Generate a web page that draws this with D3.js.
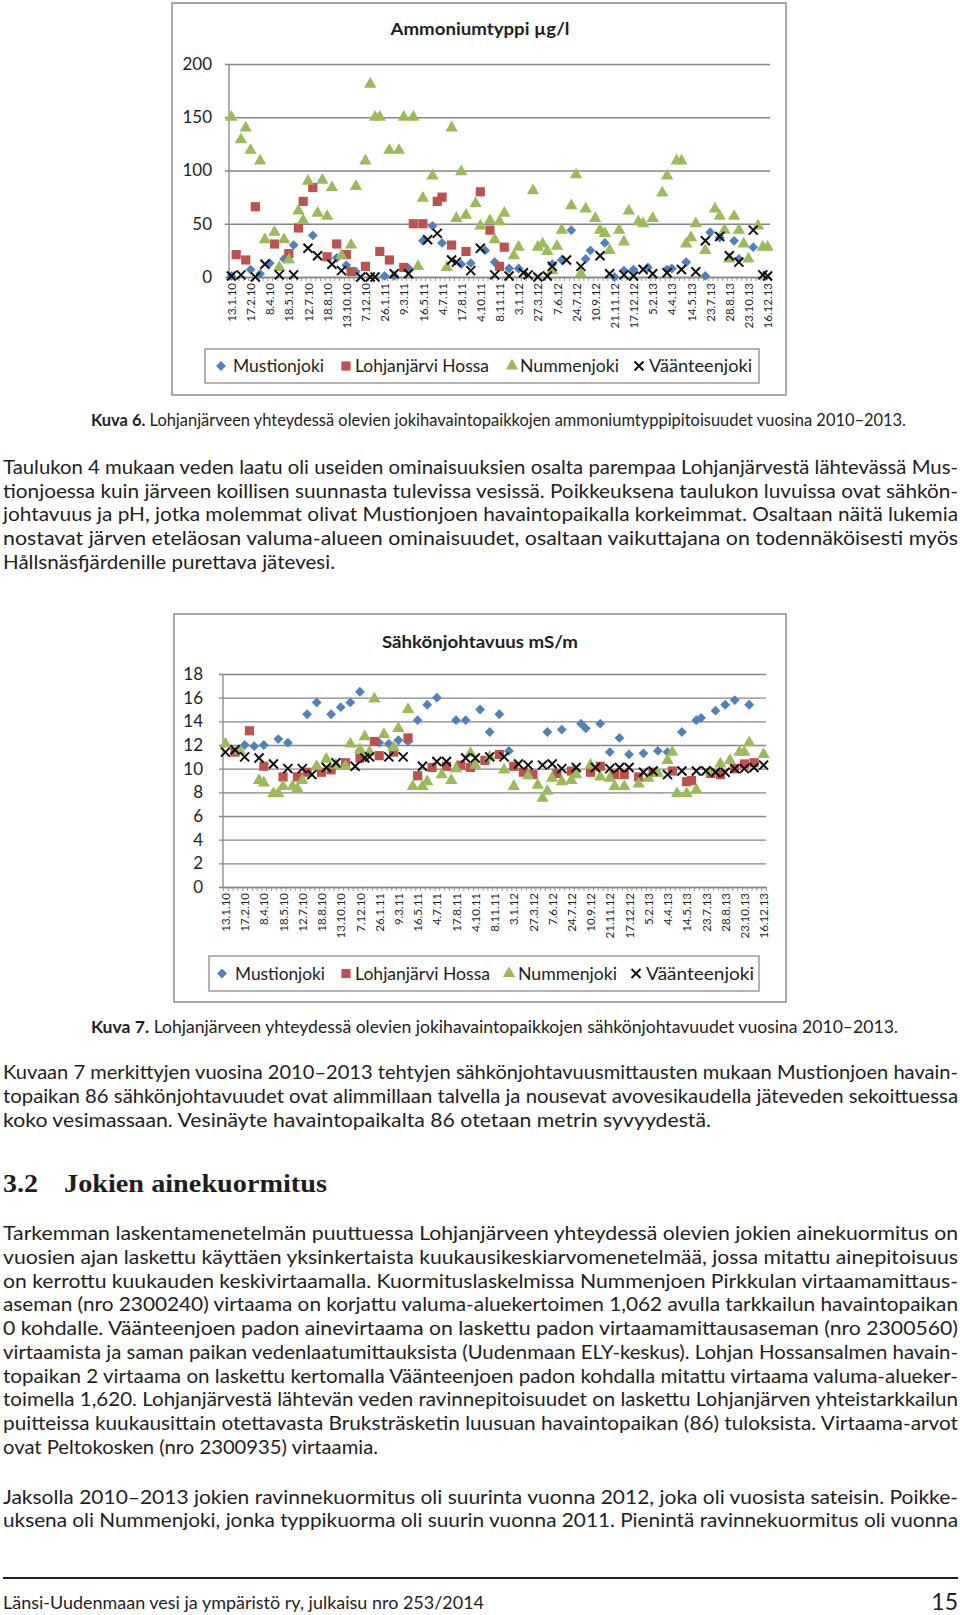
<!DOCTYPE html>
<html>

<head>
    <meta charset="utf-8">
    <title>Ammoniumtyppi ja sähkönjohtavuus</title>
    <script src="https://cdnjs.cloudflare.com/ajax/libs/d3/7.8.5/d3.min.js"></script>
    <style>
        body { margin: 0; background: #fff; }
        svg text { font-family: Lato, "Open Sans", sans-serif; fill: #1e1e1e; }
    </style>
</head>

<body>
    <script>
        var W = 960, H = 1615;

        // category axis: one category per sampling date, every 4th one labelled
        var nCat = 113, labelStep = 4;
        var dateLabels = ["13.1.10", "17.2.10", "8.4.10", "18.5.10", "12.7.10", "18.8.10", "13.10.10", "7.12.10",
            "26.1.11", "9.3.11", "16.5.11", "4.7.11", "17.8.11", "4.10.11", "8.11.11", "3.1.12", "27.3.12",
            "7.6.12", "24.7.12", "10.9.12", "21.11.12", "17.12.12", "5.2.13", "4.4.13", "14.5.13", "23.7.13",
            "28.8.13", "23.10.13", "16.12.13"];
        var seriesNames = ["Mustionjoki", "Lohjanjärvi Hossa", "Nummenjoki", "Väänteenjoki"];

        // Kuva 6: ammoniumtyppi µg/l, [category, value]
        var ammTicks = [0, 50, 100, 150, 200];
        var ammMustionjoki = [[0,1],[4,7],[6,3],[8,13],[11,17],[13,30],[17,39],[22,18],[24,11],[26,5],[32,1],[34,1],
            [37,8],[40,34],[42,48],[44,32],[48,12],[50,13],[53,25],[55,14],[58,8],[60,8],[67,12],[69,16],[71,44],
            [74,17],[75,25],[78,32],[80,0],[82,6],[84,7],[87,9],[91,7],[92,8],[95,14],[99,1],[100,42],[102,37],
            [105,34],[106,17],[109,28]];
        var ammLohjanjarvi = [[1,21],[3,16],[5,66],[9,31],[12,22],[14,46],[15,71],[17,84],[20,19],[22,31],[24,21],
            [25,5],[28,10],[31,24],[33,16],[36,9],[38,50],[40,50],[43,71],[44,75],[46,30],[49,24],[52,80],[54,44],
            [56,10],[57,28]];
        var ammNummenjoki = [[0,150],[2,129],[3,140],[4,119],[6,109],[7,35],[9,42],[10,9],[11,35],[12,16],[14,62],
            [15,53],[16,90],[18,60],[19,91],[20,57],[21,84],[23,20],[25,30],[26,85],[28,109],[29,181],[30,150],
            [31,150],[33,119],[35,119],[36,150],[38,150],[39,10],[40,74],[42,95],[45,9],[46,140],[47,55],[48,99],
            [49,58],[51,69],[52,48],[54,53],[55,35],[56,52],[57,60],[59,20],[60,28],[63,81],[64,28],[65,31],[66,24],
            [67,6],[68,29],[69,44],[71,67],[72,96],[73,3],[74,64],[76,55],[77,44],[78,41],[79,25],[81,44],[82,33],
            [83,62],[85,52],[86,50],[88,55],[90,79],[91,95],[93,109],[94,109],[95,31],[96,37],[97,50],[99,25],
            [101,64],[102,57],[103,44],[104,17],[105,57],[106,44],[107,31],[108,17],[110,48],[111,28],[112,28]];
        var ammVaanteenjoki = [[0,1],[2,2],[5,0],[7,12],[10,2],[13,2],[16,27],[18,20],[21,12],[23,6],[27,0],[29,0],
            [30,0],[34,3],[37,3],[41,35],[43,41],[46,16],[47,14],[50,6],[52,27],[55,2],[58,1],[61,4],[62,2],[64,0],
            [66,1],[67,10],[70,16],[73,10],[77,20],[79,3],[82,2],[84,1],[86,7],[88,3],[91,4],[94,7],[97,5],[99,34],
            [102,38],[104,20],[106,14],[109,44],[111,2],[112,1]];

        // Kuva 7: sähkönjohtavuus mS/m
        var condTicks = [0, 2, 4, 6, 8, 10, 12, 14, 16, 18];
        var condMustionjoki = [[4,12.0],[6,11.9],[8,12.0],[11,12.5],[13,12.2],[17,14.6],[19,15.6],[22,14.6],
            [24,15.2],[26,15.6],[28,16.5],[32,12.2],[34,12.1],[36,12.4],[38,12.3],[40,14.1],[42,15.4],[44,16.0],
            [48,14.1],[50,14.1],[53,15.0],[55,13.1],[57,14.6],[59,11.5],[67,13.1],[70,13.3],[74,13.8],[75,13.4],
            [78,13.8],[80,11.4],[82,12.6],[84,11.2],[87,11.3],[90,11.5],[92,11.4],[95,13.1],[98,14.1],[99,14.3],
            [102,14.9],[104,15.4],[106,15.8],[109,15.4]];
        var condLohjanjarvi = [[2,11.4],[5,13.2],[8,10.2],[12,9.3],[15,9.3],[17,9.7],[20,9.7],[22,9.9],[25,10.5],
            [28,10.9],[31,12.3],[32,11.1],[35,11.4],[38,12.6],[40,9.4],[43,10.1],[46,10.2],[49,10.3],[51,10.1],
            [54,10.7],[57,11.2],[60,10.2],[62,9.7],[64,9.5],[69,9.6],[72,9.8],[76,9.7],[78,10.2],[81,9.5],[83,9.5],
            [86,9.3],[89,9.7],[93,9.8],[96,8.9],[97,9.0],[101,9.6],[103,9.5],[106,10.0],[108,10.4],[110,10.5]];
        var condNummenjoki = [[0,12.1],[3,11.5],[7,9.0],[8,8.8],[10,7.9],[11,7.9],[12,8.5],[14,8.5],[15,8.3],
            [16,9.0],[19,10.2],[21,10.8],[23,10.3],[25,10.2],[26,12.1],[28,11.6],[29,12.7],[30,11.4],[31,15.9],
            [33,12.9],[35,11.8],[36,13.4],[38,15.0],[39,8.5],[41,8.5],[42,8.9],[45,9.5],[47,9.0],[48,10.0],
            [51,11.3],[52,10.3],[55,11.0],[58,9.9],[60,8.5],[63,9.4],[65,8.6],[66,7.5],[67,8.1],[68,9.2],[70,8.9],
            [72,9.0],[73,9.5],[76,10.3],[78,9.3],[80,9.2],[81,8.5],[83,8.5],[86,8.7],[88,9.2],[90,9.6],[92,10.7],
            [93,11.4],[94,7.9],[96,7.9],[98,8.2],[101,9.7],[103,10.4],[105,10.7],[107,11.4],[108,11.4],[109,12.2],
            [112,11.2]];
        var condVaanteenjoki = [[0,11.4],[2,11.6],[4,11.0],[7,10.9],[10,10.4],[13,10.0],[16,10.0],[18,9.5],
            [21,10.1],[23,10.5],[27,10.2],[29,10.9],[30,11.0],[34,11.0],[37,11.0],[41,10.2],[44,10.6],[46,10.6],
            [50,10.9],[52,10.9],[55,11.0],[58,11.0],[61,10.4],[63,10.3],[66,10.3],[68,10.4],[70,10.0],[73,10.1],
            [77,10.1],[80,10.0],[82,10.1],[84,10.1],[87,9.7],[89,9.8],[92,9.5],[95,9.8],[98,9.8],[100,9.8],
            [102,9.7],[104,9.7],[106,10.0],[108,10.0],[110,10.1],[112,10.3]];

        var svg = d3.select("body")
            .append("svg")
            .attr("width", W)
            .attr("height", H);

        // marker shapes
        var markers = [
            { d: d3.symbol(d3.symbolSquare, 48)(), rot: 45, fill: "#4f81bd" },
            { d: d3.symbol(d3.symbolSquare, 84)(), rot: 0, fill: "#c0504d" },
            { d: d3.symbol(d3.symbolTriangle, 66)(), rot: 0, fill: "#9bbb59" },
            { d: "M-4.5,-4.5L4.5,4.5M-4.5,4.5L4.5,-4.5", rot: 0, fill: "none", stroke: "#111" }
        ];

        function drawMarker(g, m, tx, ty) {
            g.append("path")
                .attr("d", m.d)
                .attr("transform", "translate(" + tx + "," + ty + ")" + (m.rot ? " rotate(" + m.rot + ")" : ""))
                .attr("fill", m.fill)
                .attr("stroke", m.stroke || "none")
                .attr("stroke-width", m.stroke ? 2 : 0);
        }

        function drawChart(o) {
            var g = svg.append("g");

            g.append("rect")
                .attr("x", o.frame[0]).attr("y", o.frame[1])
                .attr("width", o.frame[2]).attr("height", o.frame[3])
                .attr("fill", "#fff").attr("stroke", "#8c8c8c").attr("stroke-width", 1.5);

            g.append("text")
                .attr("x", o.titlePos[0]).attr("y", o.titlePos[1])
                .attr("text-anchor", "middle")
                .attr("font-weight", 700).attr("font-size", 17.5)
                .attr("textLength", o.titleLen).attr("lengthAdjust", "spacingAndGlyphs")
                .text(o.title);

            var x = d3.scaleLinear().domain([0, nCat]).range([o.left, o.right]);
            var y = d3.scaleLinear().domain([0, o.ticks[o.ticks.length - 1]]).range([o.bottom, o.top]);

            // gridlines with small outer ticks and value labels
            var grid = g.append("g")
                .attr("transform", "translate(" + (o.left - 4) + ",0)")
                .call(d3.axisLeft(y).tickValues(o.ticks).tickSize(-(o.right - o.left + 4)).tickPadding(o.pad));
            grid.select(".domain").remove();
            grid.selectAll("line").attr("stroke", "#868686").attr("stroke-width", 1.3);
            grid.selectAll("text").attr("font-size", 17).style("fill", "#1e1e1e");

            // category axis with a tick for every category
            var xa = g.append("g")
                .attr("transform", "translate(0," + o.bottom + ")")
                .call(d3.axisBottom(x).tickValues(d3.range(0, nCat + 1)).tickSize(4).tickSizeOuter(0).tickFormat(""));
            xa.select(".domain").attr("stroke", "#868686").attr("stroke-width", 1.3);
            xa.selectAll("line").attr("stroke", "#868686").attr("stroke-width", 0.8);

            g.append("line")
                .attr("x1", o.left).attr("x2", o.left)
                .attr("y1", o.top).attr("y2", o.bottom)
                .attr("stroke", "#868686").attr("stroke-width", 1.3);

            var xl = g.append("g")
                .attr("transform", "translate(0," + o.bottom + ")")
                .call(d3.axisBottom(x)
                    .tickValues(dateLabels.map(function(d, i) { return i * labelStep + 0.5; }))
                    .tickSize(0)
                    .tickFormat(function(d) { return dateLabels[Math.round((d - 0.5) / labelStep)]; }));
            xl.select(".domain").remove();
            xl.selectAll("text")
                .attr("transform", "rotate(-90)")
                .attr("text-anchor", "end")
                .attr("x", -6).attr("y", 0).attr("dy", "0.36em")
                .attr("font-size", 11.5)
                .style("fill", "#1e1e1e");

            o.series.forEach(function(s, k) {
                var sg = g.append("g");
                s.forEach(function(d) {
                    drawMarker(sg, markers[k], x(d[0] + 0.5), y(d[1]));
                });
            });

            // legend
            g.append("rect")
                .attr("x", o.legend.box[0]).attr("y", o.legend.box[1])
                .attr("width", o.legend.box[2]).attr("height", o.legend.box[3])
                .attr("fill", "#fff").attr("stroke", "#8c8c8c").attr("stroke-width", 1.3);
            seriesNames.forEach(function(name, k) {
                drawMarker(g, markers[k], o.legend.sym[k], o.legend.cy);
                g.append("text")
                    .attr("x", o.legend.txt[k]).attr("y", o.legend.cy + 6)
                    .attr("font-size", 17)
                    .attr("textLength", o.legend.len[k]).attr("lengthAdjust", "spacingAndGlyphs")
                    .text(name);
            });
        }

        drawChart({
            frame: [172, 3, 614, 392],
            title: "Ammoniumtyppi µg/l", titlePos: [480, 35], titleLen: 179,
            left: 229, right: 770, top: 64, bottom: 277, pad: 13,
            ticks: ammTicks,
            series: [ammMustionjoki, ammLohjanjarvi, ammNummenjoki, ammVaanteenjoki],
            legend: { box: [205, 349, 554, 34], cy: 366, sym: [221, 346, 512, 639], txt: [233, 355, 520, 649],
                len: [91, 134, 99, 103] }
        });

        drawChart({
            frame: [174, 614, 612, 388],
            title: "Sähkönjohtavuus mS/m", titlePos: [480, 648], titleLen: 196,
            left: 223, right: 766, top: 674, bottom: 887, pad: 16,
            ticks: condTicks,
            series: [condMustionjoki, condLohjanjarvi, condNummenjoki, condVaanteenjoki],
            legend: { box: [209, 956, 550, 35], cy: 973.5, sym: [222, 346, 509, 636], txt: [235, 355, 518, 646],
                len: [90, 135, 99, 108] }
        });

        // page text: [text, baseline y, width]
        var para1 = [
            ["Taulukon 4 mukaan veden laatu oli useiden ominaisuuksien osalta parempaa Lohjanjärvestä lähtevässä Mus-", 474, 955],
            ["tionjoessa kuin järveen koillisen suunnasta tulevissa vesissä. Poikkeuksena taulukon luvuissa ovat sähkön-", 497.5, 955],
            ["johtavuus ja pH, jotka molemmat olivat Mustionjoen havaintopaikalla korkeimmat. Osaltaan näitä lukemia", 521, 955],
            ["nostavat järven eteläosan valuma-alueen ominaisuudet, osaltaan vaikuttajana on todennäköisesti myös", 545, 955],
            ["Hållsnäsfjärdenille purettava jätevesi.", 568.5, 332]
        ];
        var para2 = [
            ["Kuvaan 7 merkittyjen vuosina 2010–2013 tehtyjen sähkönjohtavuusmittausten mukaan Mustionjoen havain-", 1079, 955],
            ["topaikan 86 sähkönjohtavuudet ovat alimmillaan talvella ja nousevat avovesikaudella jäteveden sekoittuessa", 1103, 955],
            ["koko vesimassaan. Vesinäyte havaintopaikalta 86 otetaan metrin syvyydestä.", 1127, 708]
        ];
        var para3 = [
            ["Tarkemman laskentamenetelmän puuttuessa Lohjanjärveen yhteydessä olevien jokien ainekuormitus on", 1240, 955],
            ["vuosien ajan laskettu käyttäen yksinkertaista kuukausikeskiarvomenetelmää, jossa mitattu ainepitoisuus", 1263.7, 955],
            ["on kerrottu kuukauden keskivirtaamalla. Kuormituslaskelmissa Nummenjoen Pirkkulan virtaamamittaus-", 1287.5, 955],
            ["aseman (nro 2300240) virtaama on korjattu valuma-aluekertoimen 1,062 avulla tarkkailun havaintopaikan", 1311.2, 955],
            ["0 kohdalle. Väänteenjoen padon ainevirtaama on laskettu padon virtaamamittausaseman (nro 2300560)", 1335, 955],
            ["virtaamista ja saman paikan vedenlaatumittauksista (Uudenmaan ELY-keskus). Lohjan Hossansalmen havain-", 1358.7, 955],
            ["topaikan 2 virtaama on laskettu kertomalla Väänteenjoen padon kohdalla mitattu virtaama valuma-alueker-", 1382.5, 955],
            ["toimella 1,620. Lohjanjärvestä lähtevän veden ravinnepitoisuudet on laskettu Lohjanjärven yhteistarkkailun", 1406.2, 955],
            ["puitteissa kuukausittain otettavasta Bruksträsketin luusuan havaintopaikan (86) tuloksista. Virtaama-arvot", 1430, 955],
            ["ovat Peltokosken (nro 2300935) virtaamia.", 1453.7, 375]
        ];
        var para4 = [
            ["Jaksolla 2010–2013 jokien ravinnekuormitus oli suurinta vuonna 2012, joka oli vuosista sateisin. Poikke-", 1503.5, 955],
            ["uksena oli Nummenjoki, jonka typpikuorma oli suurin vuonna 2011. Pienintä ravinnekuormitus oli vuonna", 1527.2, 955]
        ];

        function writeLines(lines) {
            lines.forEach(function(l) {
                svg.append("text")
                    .attr("x", 3).attr("y", l[1])
                    .attr("font-size", 19)
                    .attr("textLength", l[2]).attr("lengthAdjust", "spacingAndGlyphs")
                    .text(l[0]);
            });
        }
        [para1, para2, para3, para4].forEach(writeLines);

        function caption(label, rest, yPos, len) {
            var t = svg.append("text")
                .attr("x", 91).attr("y", yPos)
                .attr("font-size", 17.5)
                .attr("textLength", len).attr("lengthAdjust", "spacingAndGlyphs");
            t.append("tspan").attr("font-weight", 700).text(label);
            t.append("tspan").text(rest);
        }
        caption("Kuva 6.", " Lohjanjärveen yhteydessä olevien jokihavaintopaikkojen ammoniumtyppipitoisuudet vuosina 2010–2013.", 426, 815);
        caption("Kuva 7.", " Lohjanjärveen yhteydessä olevien jokihavaintopaikkojen sähkönjohtavuudet vuosina 2010–2013.", 1033, 807);

        // section heading
        svg.append("text")
            .attr("x", 3).attr("y", 1192)
            .attr("font-size", 25).attr("font-weight", 700)
            .style("font-family", "'Liberation Serif', 'DejaVu Serif', serif")
            .attr("textLength", 35).attr("lengthAdjust", "spacingAndGlyphs")
            .text("3.2");
        svg.append("text")
            .attr("x", 64).attr("y", 1192)
            .attr("font-size", 25).attr("font-weight", 700)
            .style("font-family", "'Liberation Serif', 'DejaVu Serif', serif")
            .attr("textLength", 263).attr("lengthAdjust", "spacingAndGlyphs")
            .text("Jokien ainekuormitus");

        // footer
        svg.append("line")
            .attr("x1", 3).attr("x2", 958)
            .attr("y1", 1578).attr("y2", 1578)
            .attr("stroke", "#1e1e1e").attr("stroke-width", 2);
        svg.append("text")
            .attr("x", 3).attr("y", 1609)
            .attr("font-size", 18)
            .attr("textLength", 481).attr("lengthAdjust", "spacingAndGlyphs")
            .text("Länsi-Uudenmaan vesi ja ympäristö ry, julkaisu nro 253/2014");
        svg.append("text")
            .attr("x", 958).attr("y", 1610)
            .attr("text-anchor", "end")
            .attr("font-size", 23)
            .text("15");
    </script>
</body>

</html>
